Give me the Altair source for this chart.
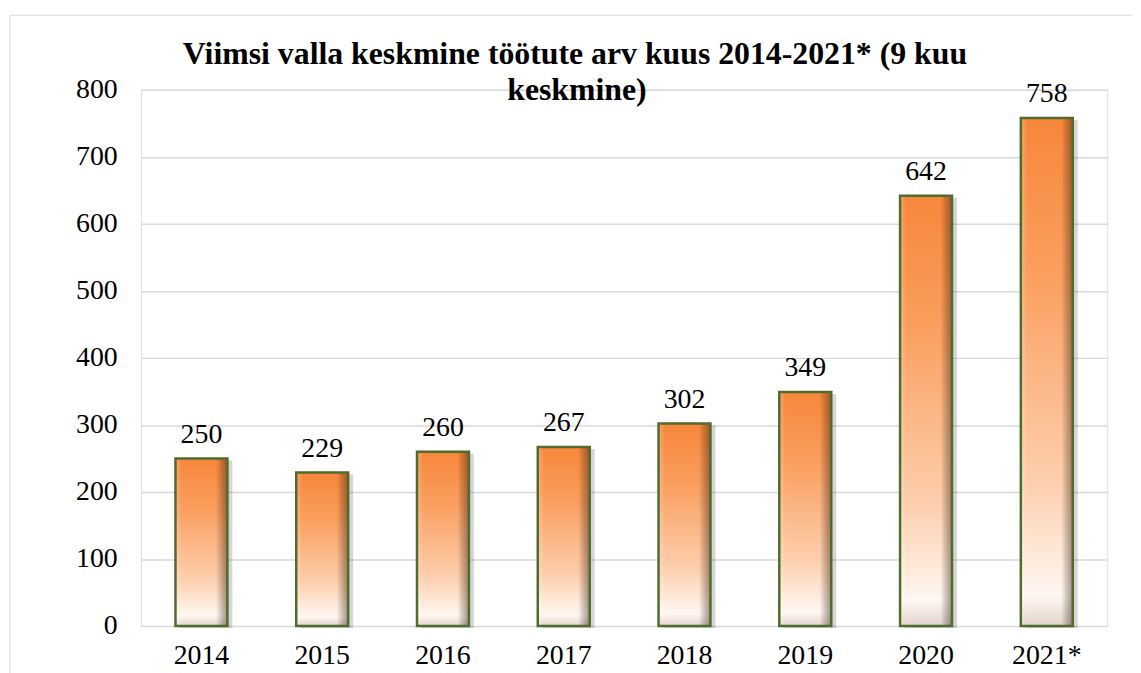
import altair as alt
import pandas as pd

years = ["2014", "2015", "2016", "2017", "2018", "2019", "2020", "2021*"]
values = [250, 229, 260, 267, 302, 349, 642, 758]
title_lines = ["Viimsi valla keskmine töötute arv kuus 2014-2021* (9 kuu", "keskmine)"]

df = pd.DataFrame({"year": years, "value": values})

FONT = "Liberation Serif, Times New Roman, serif"
W, H = 973, 540

x = alt.X("year:N", sort=years, title=None,
          scale=alt.Scale(paddingInner=0.57, paddingOuter=0.285),
          axis=alt.Axis(labelAngle=0, labelFont=FONT, labelFontSize=28, labelColor="#000",
                        labelPadding=16, ticks=False, domain=False, grid=False))
y = alt.Y("value:Q", title=None,
          scale=alt.Scale(domain=[0, 800], nice=False),
          axis=alt.Axis(values=list(range(0, 801, 100)), labelFont=FONT, labelFontSize=28,
                        labelColor="#000", labelPadding=24, ticks=False, domain=False,
                        gridColor="#d9d9d9", gridWidth=1.5))

base = alt.Chart(df)

shadow = base.mark_bar(color="#000000", opacity=0.16, xOffset=5, yOffset=2).encode(x=x, y=y)

grad = alt.Gradient(
    gradient="linear",
    stops=[
        alt.GradientStop(color="#F7873A", offset=0),
        alt.GradientStop(color="#FA9E5E", offset=0.3),
        alt.GradientStop(color="#FDCFAE", offset=0.72),
        alt.GradientStop(color="#FFF7F1", offset=0.94),
        alt.GradientStop(color="#E3D3CC", offset=1),
    ],
    x1=0, x2=0, y1=0, y2=1,
)
bars = base.mark_bar(color=grad).encode(x=x, y=y)

edge = alt.Gradient(
    gradient="linear",
    stops=[
        alt.GradientStop(color="rgba(255,255,255,0.25)", offset=0),
        alt.GradientStop(color="rgba(255,255,255,0)", offset=0.12),
        alt.GradientStop(color="rgba(0,0,0,0)", offset=0.78),
        alt.GradientStop(color="rgba(60,30,10,0.45)", offset=1),
    ],
    x1=0, x2=1, y1=0, y2=0,
)
bevel = base.mark_bar(color=edge, stroke="#4F6B2E", strokeWidth=2.5).encode(x=x, y=y)

labels = base.mark_text(font=FONT, fontSize=28, color="#000", baseline="bottom", dy=-10).encode(
    x=x, y=y, text="value:Q")

tdf = pd.DataFrame({"t": title_lines, "row": [0, 1]})
title1 = alt.Chart(tdf[tdf.row == 0]).mark_text(
    font=FONT, fontSize=32, fontWeight="bold", color="#000", baseline="alphabetic", align="center"
).encode(text="t:N", x=alt.value(437), y=alt.value(-26))
title2 = alt.Chart(tdf[tdf.row == 1]).mark_text(
    font=FONT, fontSize=32, fontWeight="bold", color="#000", baseline="alphabetic", align="center"
).encode(text="t:N", x=alt.value(439), y=alt.value(10))

border_top = alt.Chart(tdf.head(1)).mark_rule(color="#e6e6e6", strokeWidth=1.5).encode(
    x=alt.value(-132), x2=alt.value(W + 40), y=alt.value(-75))
border_left = alt.Chart(tdf.head(1)).mark_rule(color="#e6e6e6", strokeWidth=1.5).encode(
    x=alt.value(-132), y=alt.value(-75), y2=alt.value(H + 60))

chart = alt.layer(border_top, border_left, shadow, bars, bevel, labels, title1, title2).properties(
    width=W, height=H,
    autosize=alt.AutoSizeParams(type="none"),
    padding={"left": 134, "top": 80, "right": 26, "bottom": 45},
).configure_view(stroke="#d9d9d9", strokeWidth=2).configure(background="white")

chart.save("out.html", embed_options={"renderer": "svg", "actions": False})
